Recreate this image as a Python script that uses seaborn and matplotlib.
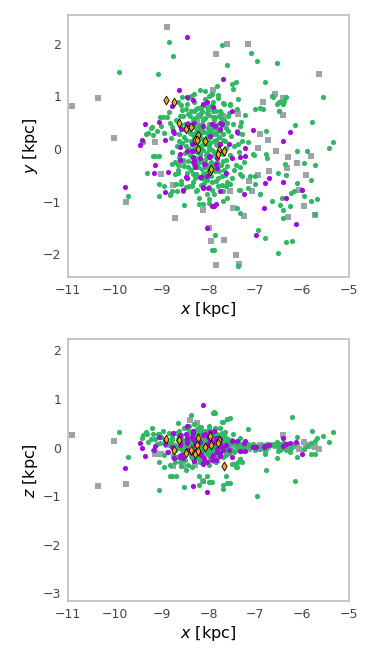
import matplotlib
matplotlib.use("Agg")
import matplotlib.pyplot as plt
import seaborn as sns
import pandas as pd

# ---------------- data: (x, y, z) in kpc ----------------
green_stars = [
    # outer stars
    (-8.85, 2.04, 0.10), (-8.75, 1.77, -0.20), (-9.92, 1.47, 0.33), (-9.08, 1.43, 0.28),
    (-7.72, 1.98, 0.52), (-7.10, 1.82, 0.05), (-6.97, 1.68, -1.00), (-6.53, 1.63, -0.22),
    (-7.60, 1.60, 0.58), (-6.80, 1.28, -0.13), (-7.50, 1.24, -0.34), (-7.42, 1.28, -0.40),
    (-7.47, 1.14, 0.10), (-5.56, 0.98, 0.24), (-6.64, 1.00, 0.05), (-6.50, 0.90, 0.02),
    (-6.38, 0.91, 0.10), (-6.34, 0.98, -0.05), (-6.50, 0.72, 0.08), (-7.00, 0.76, 0.03),
    (-6.90, 0.77, -0.02), (-6.84, 0.76, 0.06), (-5.79, 0.51, 0.34), (-6.16, 0.46, -0.69),
    (-5.34, 0.14, 0.32), (-5.43, 0.01, 0.11), (-6.78, 0.34, -0.46), (-7.15, 0.13, 0.38),
    (-5.90, -0.04, 0.03), (-5.72, -0.30, 0.14), (-5.96, -0.26, -0.03), (-6.11, -0.03, -0.20),
    (-6.36, -0.29, 0.00), (-6.35, -0.50, 0.06), (-6.51, -0.45, -0.08), (-6.10, -0.65, 0.21),
    (-6.18, -0.80, 0.08), (-5.95, -0.90, -0.03), (-5.69, -0.95, 0.20), (-5.81, -0.99, -0.14),
    (-6.64, -0.98, 0.05), (-6.44, -0.93, 0.02), (-6.47, -1.07, -0.05), (-6.41, -1.16, 0.10),
    (-6.41, -1.31, 0.03), (-6.26, -1.09, -0.10), (-5.73, -1.24, -0.14), (-6.90, -0.86, 0.00),
    (-7.32, -0.77, -0.23), (-7.00, -0.67, 0.04), (-7.01, -0.51, -0.06), (-6.76, -0.17, 0.07),
    (-6.78, -0.10, -0.04), (-7.04, -0.10, 0.08), (-6.21, -1.75, 0.62), (-6.34, -1.77, 0.05),
    (-6.95, -1.53, 0.02), (-6.79, -1.69, -0.07), (-6.51, -1.97, 0.04), (-7.36, -2.23, -0.30),
    (-7.93, -1.91, -0.71), (-7.89, -1.92, 0.73), (-7.86, -1.64, 0.71), (-7.40, -1.13, -0.40),
    (-7.33, -1.21, 0.05), (-8.53, -1.07, -0.82), (-9.71, -0.90, -0.20), (-9.06, -0.90, -0.87),
    (-8.82, -0.88, -0.58), (-9.43, 0.15, 0.20), (-9.33, 0.28, 0.32), (-9.32, -0.45, 0.27),
    (-9.21, 0.41, 0.40), (-9.14, -0.13, 0.18), (-9.06, -0.13, 0.28), (-9.19, -0.13, -0.05),
    (-9.03, 0.60, 0.10), (-8.11, -1.04, -0.68), (-8.20, -1.04, -0.78), (-8.20, -0.93, -0.58),
    (-7.61, -0.93, -0.73), (-7.70, -0.98, -0.85), (-8.95, -0.70, -0.40), (-8.77, -0.80, -0.58),
    (-8.69, -0.66, -0.58), (-8.49, -0.72, -0.47), (-8.04, -0.85, -0.58), (-7.98, -0.95, -0.71),
    (-7.70, -0.80, -0.77), (-7.54, -0.66, -0.73), (-7.63, -0.70, -0.59), (-7.46, -0.40, -0.34),
    (-7.32, -0.35, -0.23), (-7.28, -0.52, -0.30), (-7.54, 0.85, 0.60), (-7.61, 0.50, 0.58),
    (-7.70, 0.88, 0.52), (-7.91, 0.90, 0.71), (-8.66, 0.90, 0.51), (-8.37, 1.00, 0.67),
    (-7.12, -0.51, 0.02), (-7.34, -0.77, -0.05), (-7.15, -0.74, 0.08), (-6.89, -0.85, 0.04),
    (-5.81, -0.58, 0.10), (-6.24, -0.84, 0.00), (-7.36, 0.09, 0.06), (-7.03, -0.11, 0.03),
    (-7.33, 0.43, 0.01), (-7.40, 0.34, 0.08), (-7.28, 0.28, -0.05), (-7.21, 0.64, 0.04),
    (-7.82, 1.19, 0.12), (-7.93, 1.04, -0.10), (-8.00, 1.01, 0.20), (-7.79, 0.96, 0.05),
    (-7.36, 0.95, -0.02), (-7.55, 0.83, 0.10), (-7.90, 0.79, -0.05), (-7.73, 0.69, 0.15),
    (-7.86, 0.61, 0.25), (-7.57, 0.68, -0.12), (-6.63, 0.99, 0.05), (-6.54, 0.86, 0.12),
    (-6.40, 0.85, 0.00), (-6.49, 0.72, -0.05),
    # ring round the core
    (-8.56, 0.98, 0.05), (-8.44, 0.96, 0.20), (-8.32, 1.05, -0.10), (-8.19, 1.12, 0.15),
    (-8.07, 1.11, 0.32), (-7.95, 1.02, -0.20), (-8.59, 0.83, 0.25), (-8.49, 0.76, -0.05),
    (-8.85, 0.71, 0.30), (-8.89, 0.60, -0.10), (-8.97, 0.60, 0.35), (-8.82, 0.50, 0.05),
    (-9.02, 0.44, 0.22), (-9.22, 0.39, 0.18), (-9.11, 0.34, 0.08), (-9.30, 0.30, 0.12),
    (-9.19, 0.26, 0.28), (-8.95, 0.31, -0.15), (-9.39, 0.13, 0.25), (-8.79, 0.41, 0.15),
    (-8.56, 0.74, -0.25), (-8.44, 0.66, 0.38), (-8.26, 0.76, 0.10), (-8.17, 0.69, -0.30),
    (-8.01, 0.74, 0.28), (-8.61, 0.63, 0.00), (-9.06, -0.66, -0.30), (-8.83, -0.86, -0.35),
    (-8.67, -0.80, -0.20), (-8.79, -0.29, 0.20), (-8.72, -0.48, -0.30), (-8.65, -0.39, 0.18),
    (-8.58, -0.67, -0.38), (-8.54, -0.80, 0.10), (-8.35, -0.70, -0.40), (-8.27, -0.80, 0.22),
    (-7.99, -1.02, -0.15),
    # dense core
    (-8.80, 0.20, 0.10), (-8.78, -0.05, 0.25), (-8.75, 0.35, -0.15), (-8.72, -0.25, 0.05),
    (-8.70, 0.55, 0.30), (-8.68, 0.05, -0.20), (-8.66, -0.45, 0.15), (-8.64, 0.28, 0.00),
    (-8.62, -0.15, 0.35), (-8.60, 0.45, -0.30), (-8.58, -0.60, 0.20), (-8.57, 0.12, -0.05),
    (-8.55, 0.62, 0.12), (-8.53, -0.32, -0.25), (-8.52, 0.38, 0.40), (-8.50, -0.08, 0.08),
    (-8.48, 0.18, -0.12), (-8.47, -0.55, 0.28), (-8.45, 0.85, 0.02), (-8.44, -0.22, -0.35),
    (-8.43, 0.50, 0.18), (-8.42, 0.00, 0.45), (-8.41, -0.70, -0.05), (-8.40, 0.30, 0.22),
    (-8.38, -0.40, 0.10), (-8.37, 0.72, -0.18), (-8.36, 0.10, 0.30), (-8.35, -0.15, -0.08),
    (-8.34, 0.42, 0.05), (-8.33, -0.62, 0.35), (-8.32, 0.22, -0.28), (-8.31, -0.30, 0.15),
    (-8.30, 0.90, 0.48), (-8.29, 0.02, -0.02), (-8.28, 0.58, 0.25), (-8.27, -0.48, -0.15),
    (-8.26, 0.33, 0.12), (-8.25, -0.05, 0.38), (-8.24, -0.78, -0.10), (-8.23, 0.15, 0.20),
    (-8.22, 0.65, -0.22), (-8.21, -0.25, 0.05), (-8.20, 0.45, 0.32), (-8.19, -0.10, -0.30),
    (-8.18, 0.28, 0.15), (-8.17, -0.55, 0.42), (-8.16, 0.05, 0.00), (-8.15, 0.80, 0.10),
    (-8.14, -0.38, -0.18), (-8.13, 0.38, 0.28), (-8.12, -0.02, -0.08), (-8.11, 0.55, 0.18),
    (-8.10, -0.65, 0.05), (-8.09, 0.18, -0.25), (-8.08, -0.20, 0.35), (-8.07, 0.95, 0.02),
    (-8.06, 0.10, 0.12), (-8.05, -0.45, -0.12), (-8.04, 0.68, 0.30), (-8.03, -0.08, 0.22),
    (-8.02, 0.30, -0.05), (-8.01, -0.30, 0.10), (-8.00, 0.48, -0.35), (-7.99, -0.72, 0.25),
    (-7.98, 0.05, 0.45), (-7.97, 0.22, -0.15), (-7.96, -0.15, 0.08), (-7.95, 0.82, 0.15),
    (-7.94, -0.52, -0.22), (-7.93, 0.38, 0.05), (-7.92, -0.02, 0.30), (-7.91, 0.60, -0.10),
    (-7.90, -0.35, 0.18), (-7.89, 0.15, -0.28), (-7.88, -0.85, 0.02), (-7.87, 0.28, 0.38),
    (-7.86, -0.12, -0.05), (-7.85, 0.72, 0.22), (-7.84, -0.60, 0.12), (-7.83, 0.45, -0.18),
    (-7.82, -0.25, 0.28), (-7.81, 0.08, 0.00), (-7.80, 1.02, 0.15), (-7.78, -0.42, -0.12),
    (-7.76, 0.35, 0.20), (-7.75, -0.05, 0.40), (-7.73, 0.58, -0.08), (-7.72, -0.68, 0.10),
    (-7.70, 0.18, -0.20), (-7.68, -0.22, 0.25), (-7.66, 0.85, 0.05), (-7.65, -0.50, 0.32),
    (-7.63, 0.40, 0.12), (-7.62, 0.02, -0.15), (-7.60, -0.32, 0.00), (-7.58, 0.62, 0.18),
    (-7.55, -0.12, 0.08), (-7.53, 0.25, -0.05), (-7.50, -0.55, 0.15), (-7.48, 0.48, 0.28),
    (-7.45, 0.05, -0.10), (-7.42, -0.30, 0.05), (-7.40, 0.75, 0.12), (-7.38, 0.30, -0.02),
    (-7.35, -0.05, 0.10), (-7.32, -0.48, 0.20), (-7.30, 0.52, 0.02), (-7.28, 0.15, -0.08),
    (-7.25, -0.25, 0.04),
    (-8.48, 0.05, 0.02), (-8.44, -0.35, 0.20), (-8.40, 0.62, -0.10), (-8.39, -0.12, 0.33),
    (-8.36, 0.28, -0.22), (-8.33, 0.55, 0.15), (-8.31, 0.00, -0.15), (-8.28, -0.55, 0.08),
    (-8.26, 0.12, 0.28), (-8.24, 0.40, -0.05), (-8.22, -0.35, 0.40), (-8.20, -0.05, 0.10),
    (-8.18, 0.62, -0.20), (-8.17, 0.20, 0.05), (-8.15, -0.22, -0.25), (-8.14, 0.48, 0.35),
    (-8.12, -0.48, 0.15), (-8.11, 0.10, -0.02), (-8.10, 0.32, 0.22), (-8.08, -0.35, -0.10),
    (-8.07, 0.58, 0.12), (-8.06, -0.12, 0.30), (-8.04, 0.22, -0.30), (-8.03, -0.58, 0.02),
    (-8.02, 0.40, 0.18), (-8.00, 0.00, -0.08), (-7.99, -0.40, 0.38), (-7.98, 0.65, -0.12),
    (-7.97, 0.12, 0.25), (-7.95, -0.25, -0.18), (-7.94, 0.48, 0.08), (-7.92, -0.62, 0.20),
    (-7.91, 0.28, -0.02), (-7.89, -0.05, 0.12), (-7.88, 0.55, 0.32), (-7.86, -0.42, -0.25),
    (-7.85, 0.18, 0.05), (-7.83, -0.15, 0.18), (-7.81, 0.38, -0.10), (-7.79, -0.55, 0.25),
    (-7.77, 0.62, 0.02), (-7.76, 0.10, -0.15), (-7.74, -0.30, 0.10), (-7.72, 0.45, 0.30),
    (-7.70, -0.10, 0.05), (-7.68, 0.28, -0.05), (-7.66, -0.40, 0.15), (-7.64, 0.15, 0.22),
    (-7.61, -0.62, -0.08), (-7.59, 0.35, 0.02), (-8.52, 0.22, 0.15), (-8.55, -0.20, -0.08),
    (-8.58, 0.40, 0.25), (-8.62, 0.15, -0.18), (-8.65, -0.30, 0.30), (-8.50, 0.48, -0.25),
    (-8.46, -0.45, 0.05), (-8.42, 0.35, 0.12), (-8.38, 0.15, -0.05), (-8.34, -0.48, -0.20),
    (-8.30, 0.72, 0.20), (-8.27, -0.18, 0.02), (-8.23, 0.78, 0.10), (-8.19, 0.38, 0.42),
    (-8.16, -0.68, -0.05), (-8.13, 0.72, 0.00), (-8.09, -0.55, 0.28), (-8.05, 0.82, -0.08),
    (-8.01, 0.15, 0.35), (-7.96, 0.35, -0.22), (-7.93, -0.78, 0.10), (-7.90, 0.72, 0.05),
    (-7.87, -0.28, 0.40), (-7.84, 0.30, -0.30), (-7.80, -0.70, 0.00), (-7.78, 0.22, 0.15),
    (-7.75, 0.72, -0.02), (-7.71, -0.52, 0.20), (-7.67, 0.55, 0.08), (-7.63, -0.20, -0.10),
]

purple_stars = [
    (-8.46, 2.13, 0.10), (-7.69, 1.32, -0.05), (-8.63, 1.12, 0.22), (-8.45, 0.98, 0.45),
    (-8.34, 0.93, 0.35), (-8.11, 0.85, 0.87), (-8.03, 0.90, 0.05), (-7.91, 0.79, -0.15),
    (-8.78, 0.81, 0.02), (-7.49, 0.72, -0.20), (-9.06, 0.52, 0.21), (-9.36, 0.47, -0.17),
    (-9.46, 0.08, 0.09), (-9.41, 0.17, 0.00), (-7.04, 0.36, 0.01), (-6.26, 0.33, 0.09),
    (-6.41, 0.15, 0.20), (-7.39, 0.32, 0.13), (-7.21, 0.01, -0.08), (-7.32, -0.15, -0.08),
    (-7.21, -0.14, 0.13), (-7.50, -0.17, 0.14), (-9.15, -0.30, 0.03), (-9.17, -0.45, -0.05),
    (-8.87, -0.44, -0.10), (-9.79, -0.72, -0.43), (-8.93, -0.82, 0.15), (-8.54, -0.77, -0.22),
    (-8.18, -0.53, 0.12), (-8.48, -0.53, 0.28), (-7.75, -0.80, -0.12), (-7.62, -0.46, 0.05),
    (-7.25, -0.85, 0.10), (-6.80, -0.65, 0.04), (-6.71, -0.56, 0.06), (-6.41, -0.63, 0.03),
    (-6.01, -0.77, -0.14), (-6.34, -0.93, 0.08), (-6.81, -1.12, 0.02), (-6.13, -1.42, 0.12),
    (-6.98, -1.63, 0.02), (-8.04, -1.51, -0.91), (-7.89, -1.09, 0.34), (-7.85, -1.04, -0.25),
    (-8.11, -0.72, -0.34), (-7.75, 0.49, 0.18), (-8.34, -0.25, -0.80), (-8.12, -0.74, -0.32),
    (-8.61, 0.03, 0.12), (-8.61, -0.10, -0.20), (-8.61, -0.21, 0.25), (-8.46, -0.04, -0.05),
    (-8.34, -0.03, 0.18), (-8.31, -0.23, -0.28), (-8.33, -0.15, 0.30), (-8.29, -0.34, 0.05),
    (-8.17, -0.53, -0.15), (-8.01, -0.74, 0.22), (-8.04, -0.51, -0.30), (-7.98, -0.15, 0.10),
    (-8.07, -0.28, 0.28), (-7.92, -1.09, -0.20), (-8.36, 0.09, -0.12), (-8.47, -0.55, 0.20),
    (-8.76, 0.34, 0.30), (-8.73, 0.30, -0.22), (-8.46, 0.48, 0.15), (-8.32, 0.50, -0.08),
    (-8.11, 0.44, 0.25), (-7.93, 0.47, -0.25), (-7.86, 0.44, 0.12), (-7.72, 0.47, 0.02),
    (-7.76, 0.37, -0.18), (-7.96, 0.25, 0.32), (-7.75, 0.09, 0.08), (-7.57, 0.09, -0.05),
    (-8.36, -0.03, 0.22), (-8.18, -0.17, -0.12), (-7.96, -0.13, 0.15), (-7.82, -0.17, -0.02),
    (-8.29, -0.30, 0.10), (-8.09, -0.28, -0.22), (-7.84, -0.28, 0.20), (-7.82, -0.36, -0.10),
    (-8.61, -0.20, 0.05), (-8.58, 0.37, -0.15), (-8.93, 0.17, 0.08),
]

grey_stars = [
    (-8.88, 2.32, 0.05), (-7.61, 1.99, 0.02), (-7.15, 1.99, 0.00), (-7.84, 1.80, -0.10),
    (-5.65, 1.42, -0.03), (-10.36, 0.96, -0.79), (-10.92, 0.81, 0.26), (-6.58, 1.04, 0.05),
    (-6.41, 0.97, 0.26), (-6.84, 0.90, 0.03), (-6.41, 0.64, 0.00), (-7.91, 1.12, 0.10),
    (-10.01, 0.20, 0.14), (-7.37, 0.66, -0.05), (-7.70, 0.63, 0.08), (-6.90, 0.29, 0.05),
    (-6.73, 0.18, 0.02), (-6.95, 0.01, -0.04), (-6.56, -0.04, 0.04), (-6.30, -0.15, 0.06),
    (-5.81, -0.13, 0.04), (-6.10, -0.26, 0.04), (-6.33, -0.37, 0.00), (-6.70, -0.42, 0.05),
    (-6.95, -0.50, 0.02), (-5.91, -0.50, 0.05), (-7.14, -0.61, -0.02), (-7.54, -0.79, 0.03),
    (-7.07, -0.80, 0.01), (-9.02, -0.47, -0.14), (-8.76, -0.69, -0.37), (-9.76, -1.01, -0.75),
    (-8.11, -1.16, -0.69), (-7.47, -1.12, 0.00), (-7.25, -1.28, -0.06), (-8.71, -1.31, -0.05),
    (-6.30, -1.29, 0.00), (-5.72, -1.26, 0.02), (-5.97, -1.09, 0.11), (-6.07, -0.78, -0.02),
    (-8.00, -1.50, 0.00), (-7.95, -1.75, 0.05), (-7.66, -1.73, 0.02), (-7.41, -2.02, -0.05),
    (-7.34, -2.18, 0.00), (-7.84, -2.21, 0.00), (-9.14, 0.14, -0.13), (-8.39, 0.44, 0.56),
    (-8.25, 0.53, 0.51), (-8.55, -0.30, -0.37), (-8.29, -0.25, -0.36), (-7.82, 0.10, -0.25),
]

diamond_stars = [
    (-8.90, 0.93, 0.18), (-8.73, 0.89, -0.05), (-8.64, 0.49, 0.16), (-8.49, 0.37, -0.12),
    (-8.37, 0.41, -0.06), (-8.22, 0.26, 0.20), (-8.29, 0.18, -0.13), (-8.25, 0.18, 0.06),
    (-8.07, 0.15, 0.01), (-8.22, 0.00, -0.08), (-7.78, -0.01, 0.16), (-7.67, -0.04, -0.37),
    (-7.79, -0.09, 0.09), (-7.96, -0.41, 0.23), (-7.95, -0.38, 0.06),
]

x_ticks = [-11, -10, -9, -8, -7, -6, -5]
y_ticks = [-2, -1, 0, 1, 2]
z_ticks = [-3, -2, -1, 0, 1, 2]

# ---------------- frames ----------------
cols = ["x", "y", "z"]
green = pd.DataFrame(green_stars, columns=cols)
purple = pd.DataFrame(purple_stars, columns=cols)
grey = pd.DataFrame(grey_stars, columns=cols)
diam = pd.DataFrame(diamond_stars, columns=cols)

sns.set_style("white")
plt.rcParams["font.family"] = ["DejaVu Sans"]

fig = plt.figure(figsize=(3.74, 6.64), dpi=100)
ax1 = fig.add_axes([0.182, 0.583, 0.751, 0.394])
ax2 = fig.add_axes([0.182, 0.095, 0.751, 0.394])

C_GREEN = "#30b865"
C_PURPLE = "#a10bdc"
C_GREY = "#9aa4aa"
C_DIAM = "#f2a21e"


def minus(t):
    return f"\u2212{abs(t)}" if t < 0 else str(t)


for ax, col in [(ax1, "y"), (ax2, "z")]:
    sns.scatterplot(data=grey, x="x", y=col, ax=ax, marker="s", s=24,
                    color=C_GREY, linewidth=0, zorder=1)
    sns.scatterplot(data=green, x="x", y=col, ax=ax, marker="o", s=14,
                    color=C_GREEN, linewidth=0, zorder=2)
    sns.scatterplot(data=purple, x="x", y=col, ax=ax, marker="o", s=14,
                    color=C_PURPLE, linewidth=0, zorder=3)
    sns.scatterplot(data=diam, x="x", y=col, ax=ax, marker="d", s=20,
                    color=C_DIAM, edgecolor="black", linewidth=0.6, zorder=4)
    ax.set_xlim(-11, -5)
    ax.set_xticks(x_ticks)
    ax.set_xticklabels([minus(t) for t in x_ticks])
    ax.set_xlabel("$x$ [kpc]", fontsize=11.5, color="black", labelpad=2)
    for sp in ax.spines.values():
        sp.set_color("#bdbdbd")
        sp.set_linewidth(1.2)
    ax.tick_params(axis="both", length=0, labelsize=9, colors="#444444", pad=5)

ax1.set_ylim(-2.43, 2.54)
ax1.set_yticks(y_ticks)
ax1.set_yticklabels([minus(t) for t in y_ticks])
ax1.set_ylabel("$y$ [kpc]", fontsize=11.5, color="black", labelpad=2)

ax2.set_ylim(-3.16, 2.23)
ax2.set_yticks(z_ticks)
ax2.set_yticklabels([minus(t) for t in z_ticks])
ax2.set_ylabel("$z$ [kpc]", fontsize=11.5, color="black", labelpad=2)

fig.savefig("out.png", dpi=100)
